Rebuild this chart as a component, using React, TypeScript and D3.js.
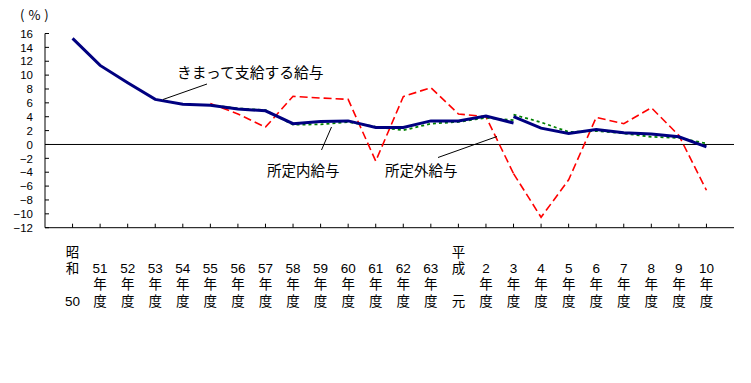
import React from "react";
import * as d3 from "d3";

const categories = [
  "昭和50", "51", "52", "53", "54", "55", "56", "57", "58", "59", "60", "61", "62", "63",
  "平成元", "2", "3", "4", "5", "6", "7", "8", "9", "10",
];
const yTicks = [16, 14, 12, 10, 8, 6, 4, 2, 0, -2, -4, -6, -8, -10, -12];

// きまって支給する給与 (two segments: 昭和50–平成3, 平成3–10)
const kimatteOld = [15.3, 11.4, 8.9, 6.5, 5.8, 5.65, 5.1, 4.85, 3.0, 3.3, 3.4, 2.45, 2.45, 3.4, 3.4, 4.1, 3.1];
const kimatteNew = [4.0, 2.35, 1.6, 2.15, 1.7, 1.5, 1.1, -0.35];
// 所定内給与 (昭和55–平成3, 平成3–10)
const naiOld = [5.7, 5.2, 4.95, 2.85, 2.9, 3.25, 2.55, 2.05, 3.0, 3.25, 3.85, 3.5];
const naiNew = [4.3, 3.2, 1.8, 1.95, 1.6, 1.1, 0.95, 0.15];
// 所定外給与 (昭和55–平成3, 平成3–10)
const gaiOld = [5.9, 4.4, 2.5, 6.95, 6.7, 6.5, -2.4, 6.9, 8.2, 4.4, 4.0, -4.2];
const gaiNew = [-4.2, -10.5, -5.1, 3.9, 3.0, 5.3, 1.3, -6.6];

const font = "'Noto Sans CJK JP', 'Noto Sans', sans-serif";
const labelFont = "'Liberation Sans', 'Noto Sans CJK JP', sans-serif";
const numFont = "'Liberation Sans', 'DejaVu Sans', sans-serif";

function labelRows(c: string): string[] {
  if (c === "昭和50") return ["昭", "和", "", "50"];
  if (c === "平成元") return ["平", "成", "", "元"];
  return ["", c, "年", "度"];
}

export default function App() {
  const x = d3.scalePoint<number>()
    .domain(categories.map((_, i) => i))
    .range([45, 734])
    .padding(1);
  const y = d3.scaleLinear().domain([-12, 16]).range([227.7, 33.5]);

  const line = d3.line<[number, number]>()
    .x((d) => x(d[0]) as number)
    .y((d) => y(d[1]));

  const seg = (vals: number[], start: number) =>
    line(vals.map((v, i) => [start + i, v] as [number, number])) as string;

  const left = 45;
  const right = 734;
  const rowY = [251.7, 267.7, 284, 300.5];

  return (
    <svg width={751} height={383} style={{ position: "absolute", left: 0, top: 0, background: "#fff" }}>
      <rect x={0} y={0} width={751} height={383} fill="#fff" />
      {/* (%) */}
      <text x={20} y={19.5} fontFamily={font} fontSize={13} fill="#000" letterSpacing={4}>(%)</text>
      {/* y axis */}
      <line x1={left} x2={left} y1={y(16)} y2={y(-12)} stroke="#000" strokeWidth={1} />
      {yTicks.map((t) => (
        <line key={"yt" + t} x1={left} x2={left + 4} y1={y(t)} y2={y(t)} stroke="#000" strokeWidth={1} />
      ))}
      {yTicks.map((t) => (
        <text key={"yl" + t} x={33} y={y(t) + 4.2} textAnchor="end" fontFamily={numFont} fontSize={11.5} fill="#000">
          {t < 0 ? "−" + Math.abs(t) : String(t)}
        </text>
      ))}
      {/* zero line */}
      <line x1={left} x2={right} y1={y(0)} y2={y(0)} stroke="#000" strokeWidth={1} />
      {/* bottom axis */}
      <line x1={left} x2={right} y1={y(-12)} y2={y(-12)} stroke="#000" strokeWidth={1} />
      {categories.map((c, i) => (
        <line key={"t" + i} x1={x(i)} x2={x(i)} y1={y(-12)} y2={y(-12) - 4} stroke="#000" strokeWidth={1} />
      ))}
      {/* x labels */}
      {categories.map((c, i) =>
        labelRows(c).map((r, k) =>
          r ? (
            <text key={"xl" + i + "-" + k} x={x(i)} y={rowY[k] + 5} textAnchor="middle" fontFamily={labelFont} fontSize={13.5} fill="#000">
              {r}
            </text>
          ) : null
        )
      )}
      {/* series */}
      <path d={seg(gaiOld, 5)} fill="none" stroke="#ff0000" strokeWidth={1.6} strokeDasharray="8,4" />
      <path d={seg(gaiNew, 16)} fill="none" stroke="#ff0000" strokeWidth={1.6} strokeDasharray="8,4" />
      <path d={seg(naiOld, 5)} fill="none" stroke="#008000" strokeWidth={1.8} strokeDasharray="3,3" />
      <path d={seg(naiNew, 16)} fill="none" stroke="#008000" strokeWidth={1.8} strokeDasharray="3,3" />
      <path d={seg(kimatteOld, 0)} fill="none" stroke="#000080" strokeWidth={3} />
      <path d={seg(kimatteNew, 16)} fill="none" stroke="#000080" strokeWidth={3} />
      {/* annotations */}
      <line x1={163} y1={99.5} x2={207} y2={84} stroke="#000" strokeWidth={1} />
      <text x={177} y={78} fontFamily={font} fontSize={14.8} fill="#000">きまって支給する給与</text>
      <line x1={321.5} y1={150} x2={331.5} y2={127} stroke="#000" strokeWidth={1} />
      <text x={267} y={175.5} fontFamily={font} fontSize={14.5} fill="#000">所定内給与</text>
      <line x1={438} y1={157.5} x2={497} y2={136.5} stroke="#000" strokeWidth={1} />
      <text x={385} y={175.5} fontFamily={font} fontSize={14.5} fill="#000">所定外給与</text>
    </svg>
  );
}
